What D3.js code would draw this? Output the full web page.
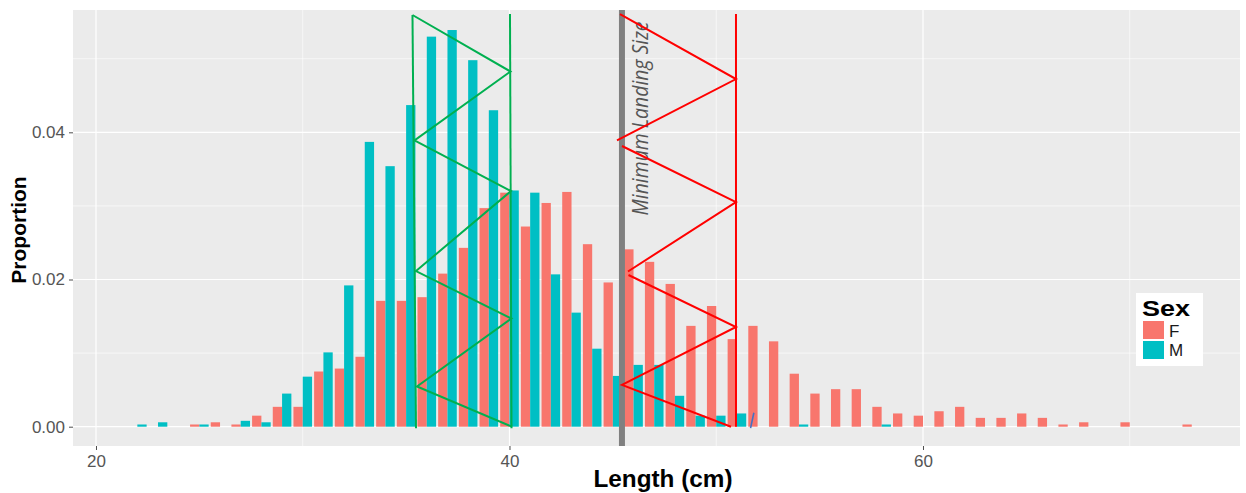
<!DOCTYPE html>
<html>
<head>
<meta charset="utf-8">
<script src="https://cdn.jsdelivr.net/npm/d3@7"></script>
<style>
  html, body { margin: 0; padding: 0; background: #ffffff; }
  svg { display: block; font-family: "Liberation Sans", Arial, sans-serif; }
</style>
</head>
<body>
<svg id="chart" width="1246" height="493"></svg>
<script>
// ---------------- DATA ----------------
const lengths = [22,23,24,25,26,27,28,29,30,31,32,33,34,35,36,37,38,39,40,41,42,43,44,45,46,47,
                 48,49,50,51,52,53,54,55,56,57,58,59,60,61,62,63,64,65,66,67,68,69,70,71,72,73];
const femaleProp = [0,0,0,0.0003,0.0006,0.0003,0.0015,0.0027,0.0027,0.0075,0.0079,0.0095,0.0171,0.0171,
                    0.0176,0.0208,0.0243,0.0297,0.0318,0.0272,0.0304,0.0319,0.0248,0.0196,0.0241,0.0224,
                    0.0194,0.0137,0.0164,0.0119,0.0137,0.0116,0.0072,0.0045,0.0051,0.0051,0.0027,0.0018,
                    0.0015,0.0021,0.0027,0.0012,0.0012,0.0018,0.0012,0.0003,0.0006,0,0.0006,0,0,0.0003];
const maleProp   = [0.0003,0.0006,0,0.0003,0,0.0008,0.0006,0.0045,0.0068,0.0101,0.0192,0.0387,0.0354,0.0437,
                    0.0530,0.0539,0.0498,0.0430,0.0321,0.0318,0.0207,0.0155,0.0106,0.0069,0.0084,0.0084,
                    0.0042,0.0015,0.0015,0.0018,0,0,0.0003,0,0,0,0.0003,0,
                    0,0,0,0,0,0,0,0,0,0,0,0,0,0];
const sexes = ["F", "M"];
const sexColors = ["#F8766D", "#00BFC4"];
const xTicks = [20, 40, 60];
const xMinor = [30, 50, 70];
const yTicks = [0, 0.02, 0.04];
const yMinor = [0.01, 0.03, 0.05];
const yTickLabels = ["0.00", "0.02", "0.04"];

const minLandingSize = 45.44;
const mlsLabel = "Minimum Landing Size";

// hand-drawn annotation zigzags (data units: length, proportion)
const greenZigzag = [[35.308,0.05594],[40.048,0.04826],[35.405,0.03889],[40.073,0.03202],
                     [35.478,0.02115],[40.097,0.0147],[35.526,0.00546],[40.121,0]];
const greenLeft  = [[35.308,0.05594],[35.478,-0.0002]];
const greenRight = [[40.024,0.05607],[40.097,-0.0002]];
const redZig1 = [[45.345,0.05607],[50.955,0.04724],[45.20,0.03889]];
const redZig2 = [[45.441,0.03814],[50.955,0.03053],[45.731,0.02109]];
const redZig3 = [[45.756,0.02061],[50.955,0.01355],[45.441,0.00567],[50.713,0]];
const redRight = [[50.955,0.05607],[50.955,0]];
const blueMark = [[51.82,0.0019],[51.66,-0.0002]];

// ---------------- LAYOUT ----------------
const svg = d3.select("#chart");
const panel = {left: 73, top: 10, right: 1240, bottom: 446};

const x = d3.scaleLinear().domain([18.888, 75.333]).range([panel.left, panel.right]);
const y = d3.scaleLinear().domain([-0.002622, 0.05662]).range([panel.bottom, panel.top]);

svg.append("rect").attr("width", 1246).attr("height", 493).attr("fill", "#ffffff");
svg.append("rect")
  .attr("x", panel.left).attr("y", panel.top)
  .attr("width", panel.right - panel.left).attr("height", panel.bottom - panel.top)
  .attr("fill", "#EBEBEB");

// gridlines
const grid = svg.append("g");
grid.selectAll(".vminor").data(xMinor).join("line")
  .attr("x1", d => x(d)).attr("x2", d => x(d)).attr("y1", panel.top).attr("y2", panel.bottom)
  .attr("stroke", "#ffffff").attr("stroke-width", 0.6);
grid.selectAll(".hminor").data(yMinor).join("line")
  .attr("y1", d => y(d)).attr("y2", d => y(d)).attr("x1", panel.left).attr("x2", panel.right)
  .attr("stroke", "#ffffff").attr("stroke-width", 0.6);
grid.selectAll(".vmajor").data(xTicks).join("line")
  .attr("x1", d => x(d)).attr("x2", d => x(d)).attr("y1", panel.top).attr("y2", panel.bottom)
  .attr("stroke", "#ffffff").attr("stroke-width", 1.2);
grid.selectAll(".hmajor").data(yTicks).join("line")
  .attr("y1", d => y(d)).attr("y2", d => y(d)).attr("x1", panel.left).attr("x2", panel.right)
  .attr("stroke", "#ffffff").attr("stroke-width", 1.2);

// bars (dodged)
const dodge = d3.scaleBand().domain(sexes).range([-0.45, 0.45]).padding(0);
const color = d3.scaleOrdinal().domain(sexes).range(sexColors);
const barData = [];
lengths.forEach((L, i) => {
  barData.push({len: L, sex: "F", v: femaleProp[i]});
  barData.push({len: L, sex: "M", v: maleProp[i]});
});
svg.append("g").selectAll("rect").data(barData.filter(d => d.v > 0)).join("rect")
  .attr("x", d => x(d.len + dodge(d.sex)))
  .attr("width", d => x(d.len + dodge(d.sex) + dodge.bandwidth()) - x(d.len + dodge(d.sex)))
  .attr("y", d => y(d.v))
  .attr("height", d => y(0) - y(d.v))
  .attr("fill", d => color(d.sex));

// minimum landing size line
svg.append("line")
  .attr("x1", x(minLandingSize)).attr("x2", x(minLandingSize))
  .attr("y1", panel.top).attr("y2", panel.bottom)
  .attr("stroke", "#808080").attr("stroke-width", 6);

svg.append("text")
  .attr("transform", `translate(${x(46.70)},${y(0.0287)}) rotate(-90)`)
  .attr("text-anchor", "start")
  .attr("font-family", "'Open Sans', 'DejaVu Sans', sans-serif")
  .attr("font-style", "italic")
  .attr("font-size", 21)
  .attr("textLength", 194)
  .attr("lengthAdjust", "spacingAndGlyphs")
  .attr("fill", "#555555")
  .text(mlsLabel);

// zigzag annotations
const line = d3.line().x(d => x(d[0])).y(d => y(d[1]));
const ann = svg.append("g").attr("fill", "none").attr("stroke-linejoin", "miter");
[greenLeft, greenRight, greenZigzag].forEach(p =>
  ann.append("path").attr("d", line(p)).attr("stroke", "#00B050").attr("stroke-width", 2));
[redRight, redZig1, redZig2, redZig3].forEach(p =>
  ann.append("path").attr("d", line(p)).attr("stroke", "#FF0000").attr("stroke-width", 2));
ann.append("path").attr("d", line(blueMark)).attr("stroke", "#4472C4").attr("stroke-width", 1.6);

// axes
const xAxis = svg.append("g").attr("transform", `translate(0,${panel.bottom})`)
  .call(d3.axisBottom(x).tickValues(xTicks).tickSize(4).tickPadding(5).tickFormat(d3.format("d")));
const yAxis = svg.append("g").attr("transform", `translate(${panel.left},0)`)
  .call(d3.axisLeft(y).tickValues(yTicks).tickSize(4).tickPadding(4)
    .tickFormat((d, i) => yTickLabels[i]));
[xAxis, yAxis].forEach(a => {
  a.select(".domain").remove();
  a.selectAll(".tick line").attr("stroke", "#4d4d4d").attr("stroke-width", 1);
  a.selectAll(".tick text").attr("fill", "#555555").attr("font-size", 17)
    .attr("font-family", "'Liberation Sans', Arial, sans-serif");
});

// axis titles
svg.append("text")
  .attr("x", 663).attr("y", 487)
  .attr("text-anchor", "middle")
  .attr("font-size", 23).attr("font-weight", "bold").attr("fill", "#000")
  .attr("textLength", 139).attr("lengthAdjust", "spacingAndGlyphs")
  .text("Length (cm)");
svg.append("text")
  .attr("transform", `translate(26,230) rotate(-90)`)
  .attr("text-anchor", "middle")
  .attr("font-size", 21).attr("font-weight", "bold").attr("fill", "#000")
  .text("Proportion");

// legend
const lg = svg.append("g");
lg.append("rect").attr("x", 1136).attr("y", 293).attr("width", 67).attr("height", 73).attr("fill", "#ffffff");
lg.append("text").attr("x", 1142).attr("y", 316).attr("font-size", 22).attr("font-weight", "bold")
  .attr("textLength", 48).attr("lengthAdjust", "spacingAndGlyphs")
  .attr("fill", "#000").text("Sex");
sexes.forEach((s, i) => {
  lg.append("rect").attr("x", 1143).attr("y", 321 + i * 20).attr("width", 21).attr("height", 18)
    .attr("fill", color(s));
  lg.append("text").attr("x", 1169).attr("y", 337 + i * 18.5).attr("font-size", 17)
    .attr("fill", "#1a1a1a").text(s);
});
</script>
</body>
</html>
